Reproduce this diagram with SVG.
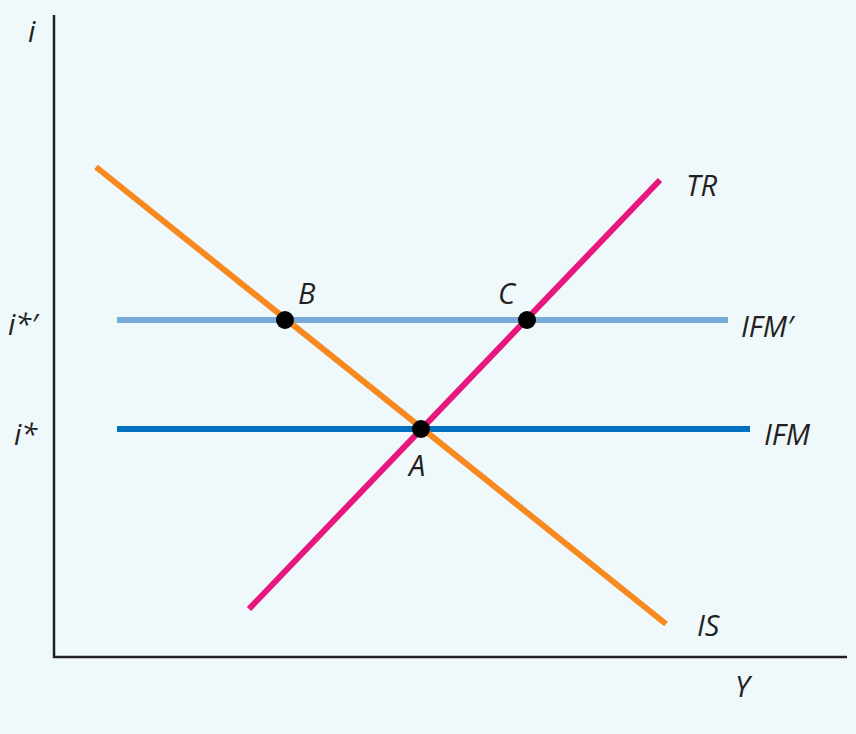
<svg xmlns="http://www.w3.org/2000/svg" width="856" height="734" viewBox="0 0 856 734">
<style>
text{font-family:"Open Sans","Liberation Sans",sans-serif;font-style:italic;font-size:29px;fill:#231f20}
.ln{stroke-width:6;fill:none}
.dot{fill:#000}
</style>
<rect width="856" height="734" fill="#eff8fb"/>
<g id="axes" stroke="#231f20" stroke-width="2.5" fill="none">
<path d="M54 15V657H847"/>
</g>
<g id="connectors">
<line class="ln" x1="117" y1="320" x2="728" y2="320" stroke="#7aaad8"/>
<line class="ln" x1="117" y1="429" x2="750" y2="429" stroke="#0070c0"/>
<line class="ln" x1="96" y1="167" x2="666" y2="624" stroke="#f7891f"/>
<line class="ln" x1="249" y1="609" x2="660" y2="180" stroke="#e8177d"/>
</g>
<g id="pointB"><circle class="dot" cx="285" cy="320" r="9"/><text x="298" y="304">B</text></g>
<g id="pointC"><circle class="dot" cx="527" cy="320" r="9"/><text x="498" y="304">C</text></g>
<g id="pointA"><circle class="dot" cx="421" cy="429" r="9"/><text x="409" y="476">A</text></g>
<g id="labels">
<text x="28" y="42">i</text>
<text x="686" y="196">TR</text>
<text x="741" y="337">IFM′</text>
<text x="764" y="445">IFM</text>
<text x="697" y="636">IS</text>
<text x="735" y="697">Y</text>
<text x="8" y="335">i*′</text>
<text x="14" y="445">i*</text>
</g>
</svg>
